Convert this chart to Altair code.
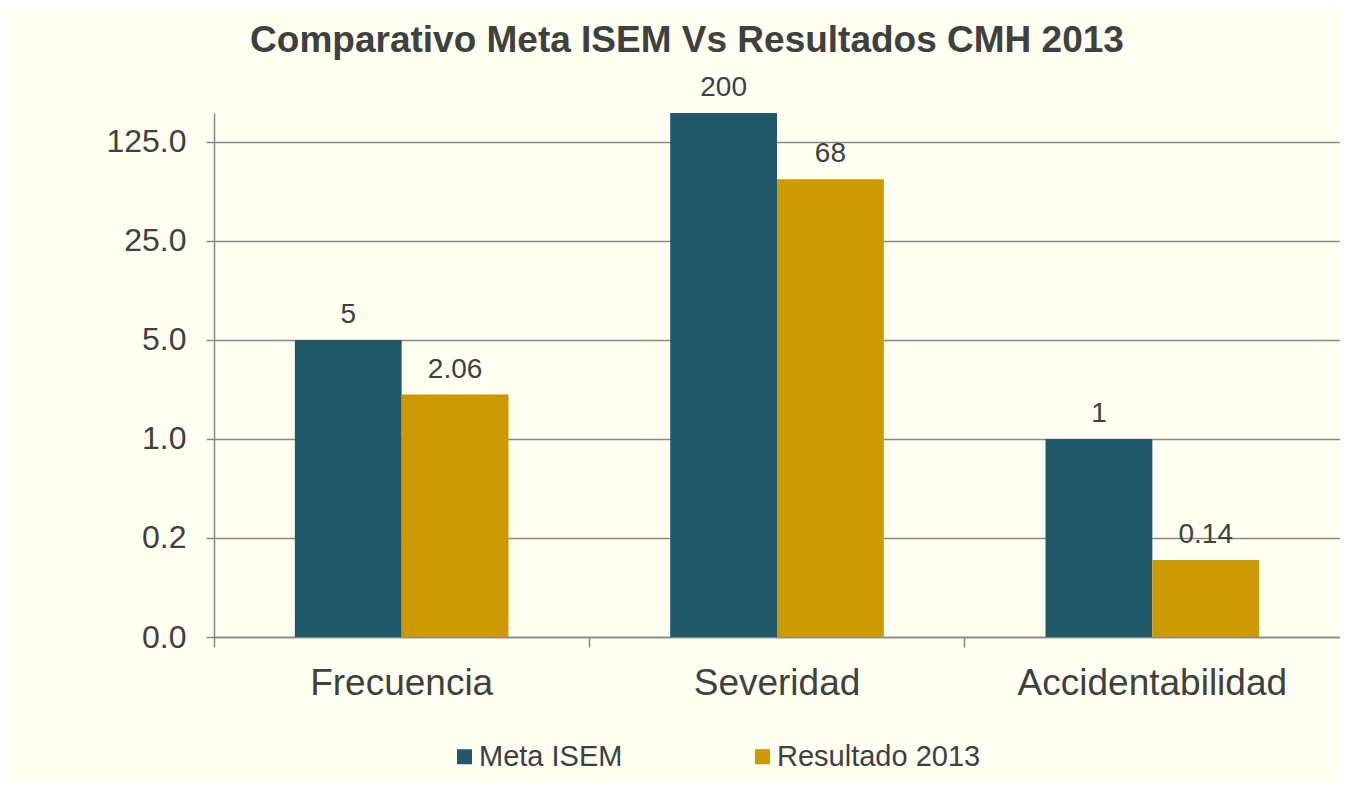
import altair as alt
import pandas as pd

categorias = ["Frecuencia", "Severidad", "Accidentabilidad"]
series = ["Meta ISEM", "Resultado 2013"]
meta_isem = [5, 200, 1]
resultado_2013 = [2.06, 68, 0.14]
y_ticks = [0.04, 0.2, 1, 5, 25, 125]
y_min = 0.04
y_max = 200
colores = ["#215968", "#CC9900"]

rows = []
for cat, m, r in zip(categorias, meta_isem, resultado_2013):
    rows.append({"categoria": cat, "serie": series[0], "valor": m, "base": y_min, "etiqueta": f"{m:g}"})
    rows.append({"categoria": cat, "serie": series[1], "valor": r, "base": y_min, "etiqueta": f"{r:g}"})
df = pd.DataFrame(rows)

FONT = "Liberation Sans"
TXT = "#404040"
GRID = "#898989"

x_enc = alt.X(
    "categoria:N",
    sort=categorias,
    scale=alt.Scale(paddingInner=0, paddingOuter=0),
    axis=alt.Axis(
        title=None,
        labelAngle=0,
        labelFontSize=37,
        labelFont=FONT,
        labelColor=TXT,
        labelBaseline="alphabetic",
        labelPadding=47,
        labelLimit=0,
        tickSize=10,
        tickColor=GRID,
        tickWidth=1.5,
        bandPosition=0,
        domainColor=GRID,
        domainWidth=1.5,
        grid=False,
    ),
)
xoff_enc = alt.XOffset(
    "serie:N",
    sort=series,
    scale=alt.Scale(paddingInner=0, paddingOuter=0.757),
)
y_scale = alt.Scale(type="log", base=5, domain=[y_min, y_max])

bars = alt.Chart(df).mark_bar().encode(
    x=x_enc,
    xOffset=xoff_enc,
    y=alt.Y(
        "valor:Q",
        scale=y_scale,
        axis=alt.Axis(
            title=None,
            values=y_ticks,
            format=".1f",
            labelFontSize=32,
            labelFont=FONT,
            labelColor=TXT,
            labelPadding=20,
            tickSize=8,
            tickColor=GRID,
            tickWidth=1.5,
            domainColor=GRID,
            domainWidth=1.5,
            grid=True,
            gridColor=GRID,
            gridWidth=1.5,
        ),
    ),
    y2="base:Q",
    color=alt.Color(
        "serie:N",
        sort=series,
        scale=alt.Scale(domain=series, range=colores),
        legend=alt.Legend(
            title=None,
            orient="none",
            legendX=236,
            legendY=629,
            direction="horizontal",
            symbolType="square",
            symbolSize=225,
            symbolStrokeWidth=0,
            labelFontSize=29,
            labelFont=FONT,
            labelColor=TXT,
            labelOffset=0,
            labelLimit=0,
            columnPadding=125,
            padding=0,
        ),
    ),
)

labels = alt.Chart(df).mark_text(
    baseline="alphabetic", dy=-17, fontSize=28, font=FONT, color=TXT
).encode(
    x=alt.X("categoria:N", sort=categorias),
    xOffset=alt.XOffset("serie:N", sort=series),
    y=alt.Y("valor:Q", scale=y_scale),
    text="etiqueta:N",
)

chart = (
    alt.layer(bars, labels)
    .properties(
        width=1126,
        height=524,
        autosize=alt.AutoSizeParams(type="none"),
        padding={"left": 206, "top": 105, "right": 0, "bottom": 145},
        background="#FFFFF2",
        title=alt.TitleParams(
            text="Comparativo Meta ISEM Vs Resultados CMH 2013",
            fontSize=37,
            fontWeight="bold",
            font=FONT,
            color=TXT,
            anchor="middle",
            frame="group",
            baseline="alphabetic",
            dx=-90,
            dy=35,
            offset=20,
        ),
    )
    .configure_view(stroke=None)
)

chart.save("out.html", embed_options={"renderer": "svg", "actions": False})
